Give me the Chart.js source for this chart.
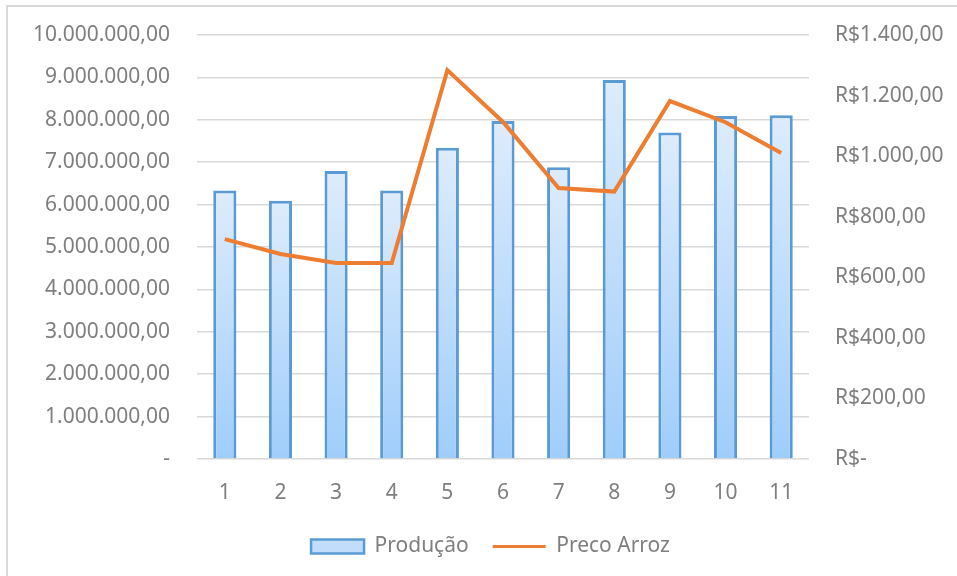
<!DOCTYPE html>
<html>
<head>
<meta charset="utf-8">
<script src="https://cdn.jsdelivr.net/npm/chart.js@4/dist/chart.umd.min.js"></script>
<style>
  html, body { margin: 0; padding: 0; background: #fff; overflow: hidden; }
  #frame { position: absolute; left: 6px; top: 5px; width: 1000px; height: 700px; border: 2px solid #d9d9d9; }
  #wrap { position: absolute; left: 0; top: 0; width: 957px; height: 576px; }
</style>
</head>
<body>
<div id="frame"></div>
<div id="wrap"><canvas id="myChart" width="957" height="576"></canvas></div>
<script>
var periodos = ['1', '2', '3', '4', '5', '6', '7', '8', '9', '10', '11'];
var producao = [6330000, 6090000, 6790000, 6330000, 7340000, 7970000, 6880000, 8940000, 7700000, 8090000, 8110000];
var precoArroz = [726, 677, 647, 647, 1284, 1113, 895, 883, 1182, 1112, 1010];

var producaoTicks = { min: 0, max: 10000000, step: 1000000 };
var precoTicks = { min: 0, max: 1400, step: 200 };

var fontName = "'Noto Sans', 'Liberation Sans', sans-serif";
var fontSize = 21;
var textColor = '#7f7f7f';

function formatBR(v) {
  var parts = Math.abs(v).toFixed(2).split('.');
  var inteiro = parts[0].replace(/\B(?=(\d{3})+(?!\d))/g, '.');
  return inteiro + ',' + parts[1];
}

function barFill(c) {
  var chart = c.chart;
  var area = chart.chartArea;
  if (!area || c.type !== 'data') return '#cfe4fb';
  var top = chart.scales.y.getPixelForValue(c.raw);
  var g = chart.ctx.createLinearGradient(0, top, 0, area.bottom);
  g.addColorStop(0, '#deecfc');
  g.addColorStop(1, '#9fcdfb');
  return g;
}

// tick padding would otherwise push the plot area down
function fixAxis(width) {
  return function (s) {
    s.width = width;
    s.paddingTop = 12;
    s.paddingBottom = 12;
  };
}

var chart;

window.onload = function () {
  var ctx = document.getElementById('myChart');

  chart = new Chart(ctx, {
    data: {
      labels: periodos,
      datasets: [{
        type: 'line',
        label: 'Preco Arroz',
        data: precoArroz,
        yAxisID: 'y1',
        borderColor: '#ed7d31',
        backgroundColor: '#ed7d31',
        borderWidth: 4,
        pointRadius: 0,
        tension: 0,
        order: 0
      }, {
        type: 'bar',
        label: 'Produção',
        data: producao,
        yAxisID: 'y',
        backgroundColor: barFill,
        borderColor: '#5b9bd5',
        borderWidth: 3,
        categoryPercentage: 0.8,
        barPercentage: 0.52,
        order: 1
      }]
    },
    options: {
      responsive: false,
      animation: false,
      layout: { padding: { top: 35, left: 26, right: 2, bottom: 9 } },
      plugins: {
        tooltip: { enabled: false },
        legend: {
          position: 'bottom',
          reverse: true,
          labels: {
            color: textColor,
            font: { family: fontName, size: fontSize },
            usePointStyle: true,
            pointStyleWidth: 53,
            boxHeight: 14,
            padding: 24,
            generateLabels: function (ch) {
              var items = Chart.defaults.plugins.legend.labels.generateLabels(ch);
              items.forEach(function (it) {
                if (it.datasetIndex === 1) {
                  it.pointStyle = 'rect';
                  it.fillStyle = '#c2ddfb';
                  it.strokeStyle = '#5b9bd5';
                  it.lineWidth = 2.5;
                } else {
                  it.pointStyle = 'line';
                  it.strokeStyle = '#ed7d31';
                  it.lineWidth = 3;
                }
              });
              return items;
            }
          }
        }
      },
      scales: {
        x: {
          offset: true,
          grid: { display: false },
          border: { display: false },
          ticks: { color: textColor, font: { family: fontName, size: fontSize }, padding: 13 },
          afterFit: function (s) { s.height = 53; }
        },
        y: {
          position: 'left',
          min: producaoTicks.min,
          max: producaoTicks.max,
          grid: { color: '#d9d9d9', lineWidth: 1.5, drawTicks: false },
          border: { display: false },
          ticks: {
            stepSize: producaoTicks.step,
            color: textColor,
            font: { family: fontName, size: fontSize },
            padding: 27,
            callback: function (v) { return v === 0 ? '-' : formatBR(v); }
          },
          afterFit: fixAxis(171)
        },
        y1: {
          position: 'right',
          min: precoTicks.min,
          max: precoTicks.max,
          grid: { display: false, drawTicks: false },
          border: { display: false },
          ticks: {
            stepSize: precoTicks.step,
            color: textColor,
            font: { family: fontName, size: fontSize },
            padding: 26,
            callback: function (v) { return v === 0 ? 'R$-' : 'R$' + formatBR(v); }
          },
          afterFit: fixAxis(146)
        }
      }
    }
  });
};
</script>
</body>
</html>
